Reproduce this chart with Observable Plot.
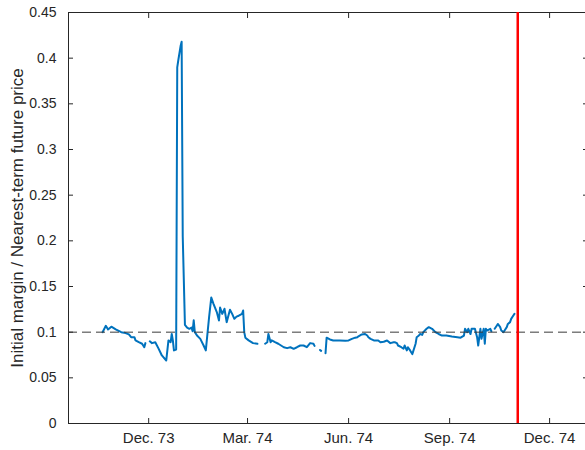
<!DOCTYPE html>
<html>
<head>
<meta charset="utf-8">
<script src="https://cdn.jsdelivr.net/npm/d3@7"></script>
<script src="https://cdn.jsdelivr.net/npm/@observablehq/plot@0.6"></script>
<style>
  html, body { margin: 0; padding: 0; background: #fff; }
</style>
</head>
<body>
<div id="chart"></div>
<script>
const dates = [
  "1973-10-20","1973-10-23","1973-10-25","1973-10-28","1973-11-01","1973-11-06","1973-11-10","1973-11-13",
  "1973-11-15","1973-11-18","1973-11-19","1973-11-22","1973-11-25","1973-11-27","1973-11-28","1973-11-30",
  "1973-12-02","1973-12-04","1973-12-07","1973-12-10","1973-12-13","1973-12-17","1973-12-19","1973-12-21",
  "1973-12-22","1973-12-23","1973-12-24","1973-12-26","1973-12-27","1973-12-28","1973-12-30","1973-12-31",
  "1974-01-01","1974-01-03","1974-01-05","1974-01-07","1974-01-09","1974-01-10","1974-01-11","1974-01-12",
  "1974-01-14","1974-01-17","1974-01-20","1974-01-22","1974-01-25","1974-01-27","1974-01-29","1974-02-01",
  "1974-02-03","1974-02-04","1974-02-06","1974-02-08","1974-02-10","1974-02-13","1974-02-15","1974-02-17",
  "1974-02-19","1974-02-21","1974-02-24","1974-02-25","1974-02-26","1974-02-27","1974-03-02","1974-03-06",
  "1974-03-10","1974-03-13","1974-03-17","1974-03-19","1974-03-20","1974-03-22","1974-03-23","1974-03-26",
  "1974-03-29","1974-04-03","1974-04-06","1974-04-09","1974-04-12","1974-04-15","1974-04-18","1974-04-21",
  "1974-04-24","1974-04-27","1974-04-30","1974-05-01","1974-05-04","1974-05-06","1974-05-07","1974-05-09",
  "1974-05-11","1974-05-12","1974-05-15","1974-05-18","1974-05-21","1974-05-24","1974-05-29","1974-06-01",
  "1974-06-04","1974-06-07","1974-06-09","1974-06-10","1974-06-13","1974-06-16","1974-06-18","1974-06-19",
  "1974-06-21","1974-06-24","1974-06-27","1974-06-28","1974-06-30","1974-07-03","1974-07-06","1974-07-09",
  "1974-07-12","1974-07-13","1974-07-15","1974-07-16","1974-07-19","1974-07-21","1974-07-22","1974-07-24",
  "1974-07-25","1974-07-27","1974-07-29","1974-08-01","1974-08-02","1974-08-04","1974-08-05","1974-08-07",
  "1974-08-08","1974-08-11","1974-08-13","1974-08-16","1974-08-19","1974-08-22","1974-08-25","1974-08-29",
  "1974-09-03","1974-09-08","1974-09-11","1974-09-14","1974-09-15","1974-09-17","1974-09-18","1974-09-20",
  "1974-09-21","1974-09-24","1974-09-26","1974-09-27","1974-09-29","1974-09-30","1974-10-02","1974-10-03",
  "1974-10-04","1974-10-05","1974-10-08","1974-10-09","1974-10-11","1974-10-12","1974-10-14","1974-10-15",
  "1974-10-17","1974-10-18","1974-10-20","1974-10-21","1974-10-23","1974-10-24","1974-10-26","1974-10-27",
  "1974-10-29","1974-10-30"
];
const values = [
  0.100,0.107,0.103,0.106,0.103,0.100,0.099,0.0975,
  0.0945,0.0945,0.091,0.089,0.0873,0.0835,0.088,null,
  0.090,0.088,0.089,0.082,0.0745,0.069,0.091,0.089,
  0.098,0.091,0.080,0.081,0.390,0.398,0.413,0.418,
  0.205,0.108,0.105,0.1037,0.105,0.101,0.113,0.100,
  0.0963,0.0927,0.0854,0.080,0.1164,0.138,0.131,0.122,
  0.1128,0.127,0.120,0.1256,0.111,0.1245,0.120,0.1146,
  0.117,0.118,0.120,0.1237,0.100,0.094,0.091,0.088,
  0.0873,null,0.0873,0.089,0.098,0.089,0.091,0.089,
  0.0873,0.0835,0.0825,0.0835,0.0818,0.0835,0.0854,0.0854,
  0.0835,0.088,0.0873,0.085,null,0.0805,0.0795,null,
  0.077,0.094,0.092,0.0909,0.0909,0.0909,0.0905,0.0909,
  0.0927,0.094,0.0945,0.0955,0.0975,0.098,0.0963,0.0945,
  0.0927,0.091,0.091,0.0909,0.089,0.0895,0.0909,0.088,
  0.089,0.089,0.088,0.0854,0.0835,0.0818,0.0854,0.080,
  0.0835,0.080,0.076,0.0873,0.0945,0.0963,0.098,0.097,
  0.100,0.1037,0.1055,0.1037,0.100,0.098,0.0963,0.0963,
  0.0953,0.0945,0.094,0.0963,0.1037,0.100,0.1037,0.098,
  0.1037,0.1037,0.0945,0.0854,0.1037,0.0927,0.1037,0.0873,
  0.1037,0.1018,0.1037,0.101,null,0.1037,0.1073,0.109,
  0.1055,0.1018,0.100,0.1018,0.1055,0.109,0.111,0.1146,
  0.1182,0.120
];
const referenceLevel = [0.1];
const eventDate = ["1974-11-02"];
const xTickDates = ["1973-12-01","1974-03-01","1974-06-01","1974-09-01","1974-12-01"];
const xTickLabels = ["Dec. 73","Mar. 74","Jun. 74","Sep. 74","Dec. 74"];
const yTicks = [0,0.05,0.1,0.15,0.2,0.25,0.3,0.35,0.4,0.45];
const yLabel = "Initial margin / Nearest-term future price";
const xDomain = ["1973-09-19","1975-01-04T12:00"];

const rows = dates.map((d, i) => ({date: new Date(d), value: values[i]}));
const xTicks = xTickDates.map(d => new Date(d));
const labelFor = new Map(xTicks.map((d, i) => [+d, xTickLabels[i]]));
const axisColor = "#262626";

const chart = Plot.plot({
  width: 585,
  height: 450,
  marginLeft: 68,
  marginRight: -2,
  marginTop: 12,
  marginBottom: 27,
  style: {fontFamily: "'Liberation Sans', Arial, Helvetica, sans-serif", fontSize: "13px", color: axisColor, background: "#fff"},
  x: {type: "utc", domain: xDomain.map(d => new Date(d))},
  y: {domain: [0, 0.45]},
  marks: [
    Plot.frame({stroke: axisColor, strokeWidth: 1}),
    Plot.line(rows, {x: "date", y: "value", stroke: "#0072BD", strokeWidth: 2, curve: "linear"}),
    Plot.ruleY(referenceLevel, {stroke: "#3a3a3a", strokeWidth: 1, strokeDasharray: "9,5"}),
    Plot.ruleX(eventDate.map(d => new Date(d)), {stroke: "#ff0000", strokeWidth: 2.5}),
    Plot.axisX({anchor: "bottom", ticks: xTicks, tickSize: -5, tickPadding: 14, tickFormat: d => labelFor.get(+d), label: null, stroke: axisColor, fill: axisColor, fontSize: 15}),
    Plot.axisX({anchor: "top", ticks: xTicks, tickSize: -5, tickFormat: () => "", label: null, stroke: axisColor}),
    Plot.axisY({anchor: "left", ticks: yTicks, tickSize: -5, tickPadding: 17, tickFormat: d => String(+d.toFixed(2)), label: null, stroke: axisColor, fill: axisColor, fontSize: 14}),
    Plot.axisY({anchor: "right", ticks: yTicks, tickSize: -5, tickFormat: () => "", label: null, stroke: axisColor}),
    Plot.text([yLabel], {text: d => d, frameAnchor: "left", textAnchor: "middle", rotate: -90, dx: -51, fontSize: 17, fill: axisColor})
  ]
});
document.getElementById("chart").appendChild(chart);
</script>
</body>
</html>
